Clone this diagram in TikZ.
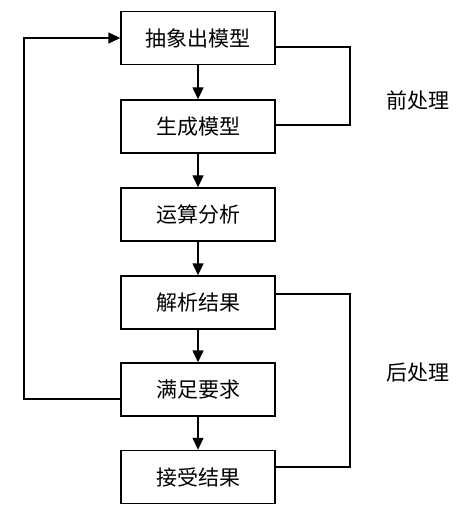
\documentclass[tikz,border=0pt]{standalone}
\usepackage{fontspec}
\setmainfont{Noto Sans CJK SC}
\usetikzlibrary{arrows.meta}
\begin{document}
\begin{tikzpicture}[x=1pt,y=-1pt,
  box/.style={draw,line width=1.4pt,minimum width=154pt,minimum height=53pt,inner sep=0pt,font=\fontsize{21}{21}\selectfont},
  conn/.style={line width=1.4pt},
  arr/.style={conn,-{Triangle[length=12pt,width=11pt]}},
  lbl/.style={font=\fontsize{21}{21}\selectfont}]
\useasboundingbox (0,0) rectangle (469,521);
\node[box] (b1) at (198,38) {抽象出模型};
\node[box] (b2) at (198,126.5) {生成模型};
\node[box] (b3) at (198,214.5) {运算分析};
\node[box] (b4) at (198,302.5) {解析结果};
\node[box] (b5) at (198,389.5) {满足要求};
\node[box] (b6) at (198,477) {接受结果};
\node[lbl] (l1) at (418,100) {前处理};
\node[lbl] (l2) at (418,373) {后处理};
\draw[arr] (b1) -- (b2);
\draw[arr] (b2) -- (b3);
\draw[arr] (b3) -- (b4);
\draw[arr] (b4) -- (b5);
\draw[arr] (b5) -- (b6);
\coordinate (lx) at (24,0);
\coordinate (rx) at (350,0);
\coordinate (p5) at ([yshift=-9.5pt]b5.west);
\coordinate (p1) at ([yshift=-9pt]b1.east);
\coordinate (p2) at ([yshift=1.5pt]b2.east);
\coordinate (p4) at ([yshift=8.5pt]b4.east);
\coordinate (p6) at ([yshift=10pt]b6.east);
\draw[arr] (p5) -| (lx |- b1.west) -- (b1.west);
\draw[conn] (p1) -| (rx |- p2) -- (p2);
\draw[conn] (p4) -| (rx |- p6) -- (p6);
\end{tikzpicture}
\end{document}
